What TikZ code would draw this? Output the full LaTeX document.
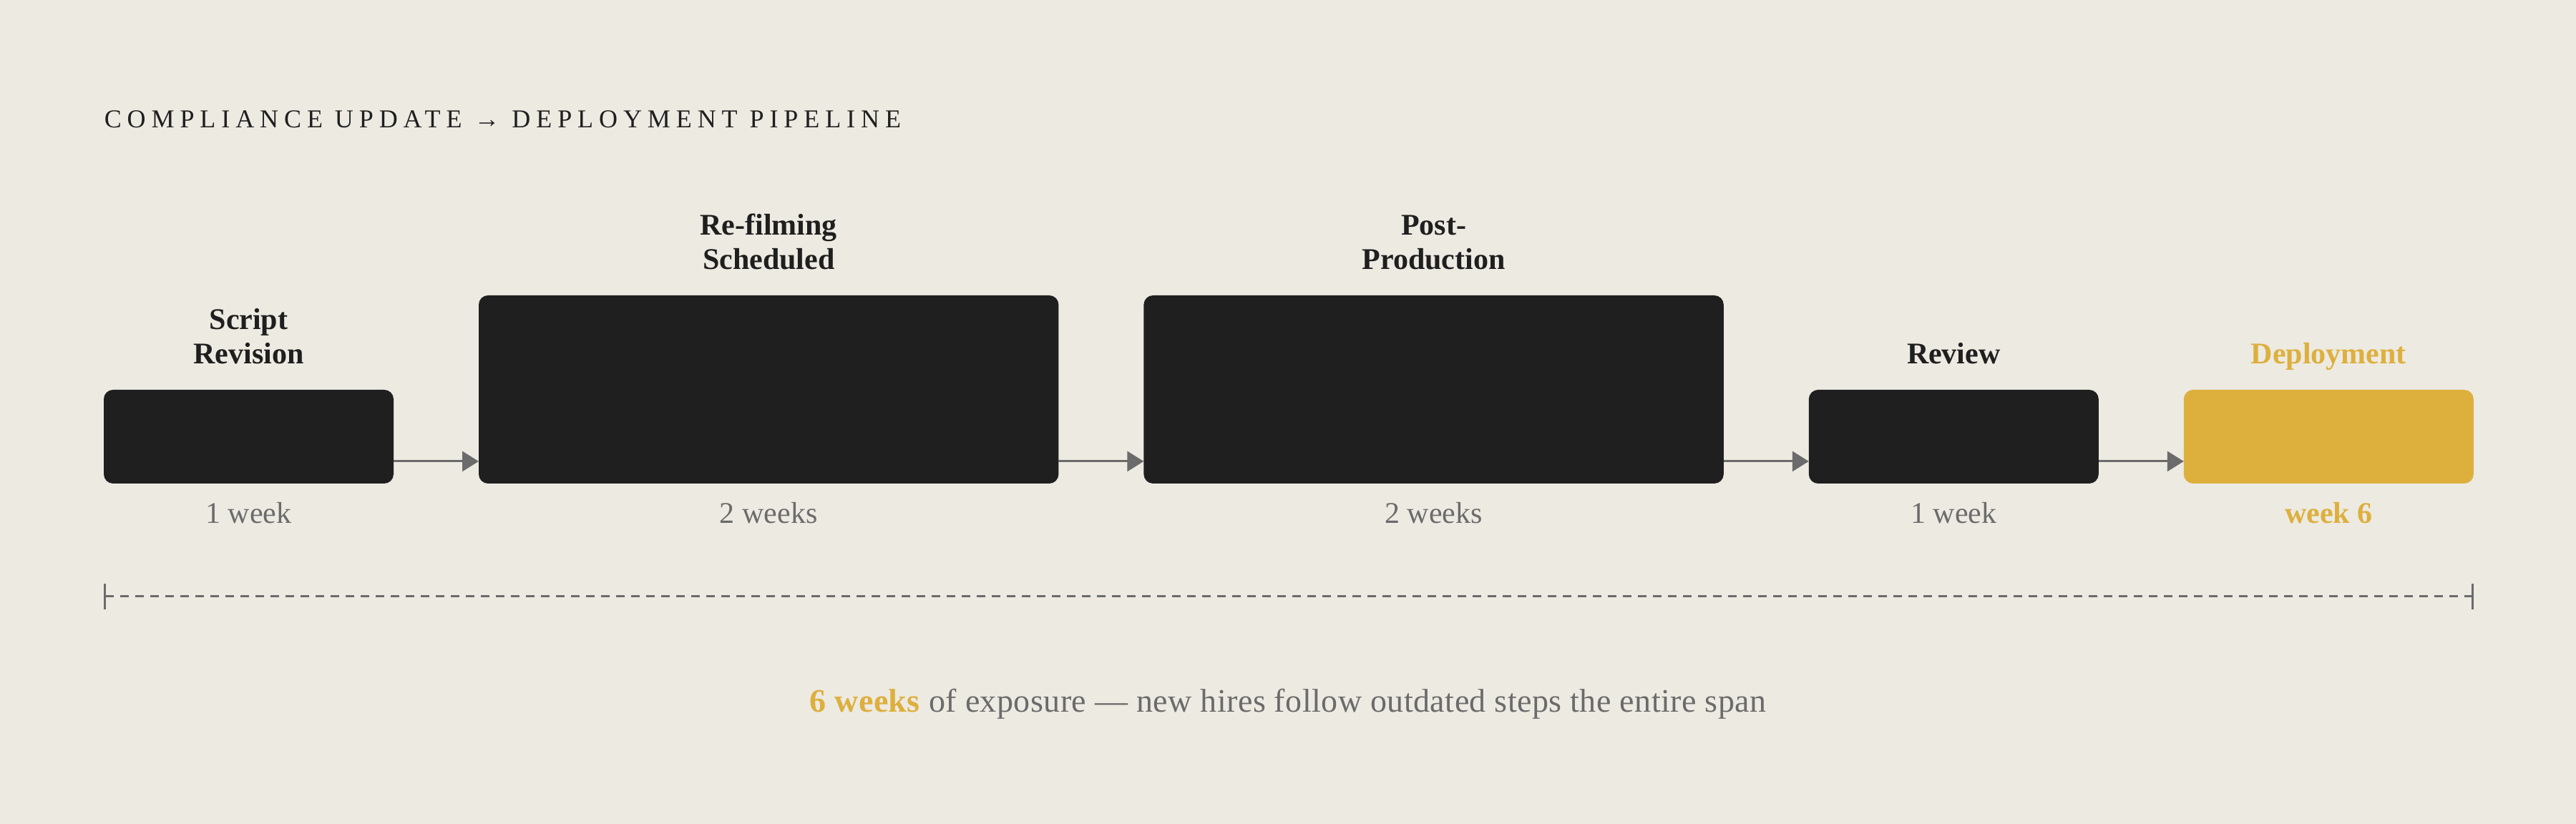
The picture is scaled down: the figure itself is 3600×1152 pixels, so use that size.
\documentclass[tikz,border=0pt]{standalone}
\usepackage{fontspec}
\setmainfont{Liberation Serif}
\usetikzlibrary{positioning,calc,arrows.meta}
\definecolor{paper}{HTML}{EDEAE2}
\definecolor{ink}{HTML}{1F1F1F}
\definecolor{gold}{HTML}{DDB03E}
\definecolor{muted}{HTML}{6B6B6B}

\begin{document}
\begin{tikzpicture}[x=0.25pt,y=0.25pt]
        \tikzstyle{stage}=[rectangle,rounded corners=3.25pt,fill=ink,inner sep=0pt,outer sep=0pt,minimum width=101.25pt,minimum height=32.75pt]
        \tikzstyle{bigstage}=[minimum width=202.6pt,minimum height=65.75pt]
        \tikzstyle{heading}=[font=\fontsize{10.5}{12}\selectfont\bfseries,text=ink,align=center,inner sep=0pt,outer sep=0pt,text depth=0pt]
        \tikzstyle{duration}=[font=\fontsize{10.5}{12}\selectfont,text=muted,inner sep=0pt,outer sep=0pt]
        \tikzstyle{flow}=[draw=muted,line width=0.75pt,-{Triangle[length=5.75pt,width=7pt]}]
  \fill[paper] (0,0) rectangle (3600,1152);
  \useasboundingbox (0,0) rectangle (3600,1152);
  \node[anchor=base west,inner sep=0pt,text=ink,font=\fontsize{9}{11}\selectfont\addfontfeature{LetterSpace=22}] (T) at (145,973) {COMPLIANCE UPDATE → DEPLOYMENT PIPELINE};
  \node[stage,anchor=south west] (P_1) at (145,476) {};
  \node[stage,bigstage,right=29.75pt of P_1.south east,anchor=south west] (P_2) {};
  \node[stage,bigstage,right=29.75pt of P_2.south east,anchor=south west] (P_3) {};
  \node[stage,right=29.75pt of P_3.south east,anchor=south west] (P_4) {};
  \node[stage,fill=gold,right=29.75pt of P_4.south east,anchor=south west] (P_5) {};
  \node[heading,above=9pt of P_1] (L_1) {Script\\Revision};
  \node[heading,above=9pt of P_2] (L_2) {Re-filming\\Scheduled};
  \node[heading,above=9pt of P_3] (L_3) {Post-\\Production};
  \node[heading,above=9pt of P_4] (L_4) {Review};
  \node[heading,text=gold,above=9pt of P_5] (L_5) {Deployment};
  \node[duration,below=14pt of P_1,anchor=base] (D_1) {1 week};
  \node[duration,below=14pt of P_2,anchor=base] (D_2) {2 weeks};
  \node[duration,below=14pt of P_3,anchor=base] (D_3) {2 weeks};
  \node[duration,below=14pt of P_4,anchor=base] (D_4) {1 week};
  \node[duration,text=gold,font=\fontsize{10.5}{12}\selectfont\bfseries,below=14pt of P_5,anchor=base] (D_5) {week 6};
  \foreach \i/\j in {1/2,2/3,3/4,4/5}
    \draw[flow] ($(P_\i.south east)+(0,31)$) -- ($(P_\j.south west)+(0,31)$);
  \coordinate (S_L) at ($(P_1.south west)+(0,-158)$);
  \coordinate (S_R) at ($(P_5.south east)+(0,-158)$);
  \draw[muted,line width=0.75pt,dash pattern=on 3pt off 2.25pt,{Bar[width=9pt]}-{Bar[width=9pt]}] (S_L) -- (S_R);
  \node[duration,font=\fontsize{11.5}{13}\selectfont\addfontfeature{LetterSpace=1},anchor=base] (F) at (1800,156) {\textcolor{gold}{\textbf{6 weeks}} of exposure — new hires follow outdated steps the entire span};
    \end{tikzpicture}
\end{document}
